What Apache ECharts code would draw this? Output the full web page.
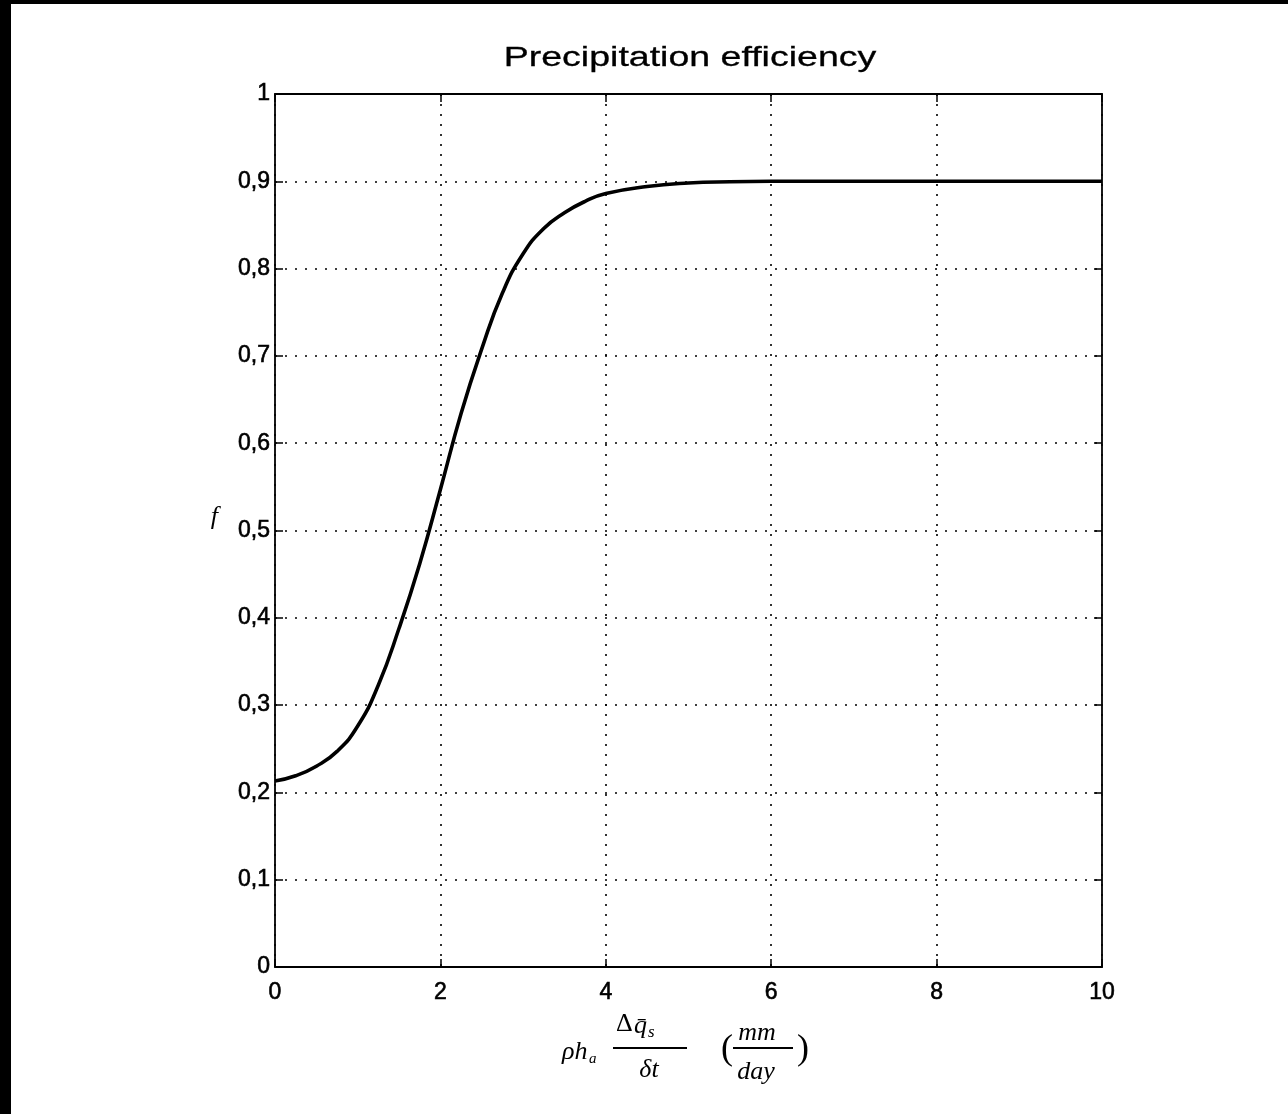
<!DOCTYPE html>
<html>
<head>
<meta charset="utf-8">
<script src="https://cdn.jsdelivr.net/npm/echarts@6/dist/echarts.min.js"></script>
<style>
  html, body { margin: 0; padding: 0; background: #000; width: 1288px; height: 1114px; overflow: hidden; }
  #chart { position: absolute; left: 11px; top: 4px; width: 1277px; height: 1110px; background: #fff; }
</style>
</head>
<body>
<div id="chart"></div>
<script>
// ---- data ----
const xValues = [0, 0.25, 0.5, 0.75, 1.0, 1.25, 1.5, 1.75, 2.0, 2.25, 2.5, 2.75, 3.0, 3.25, 3.5, 3.75, 4.0, 4.5, 5.0, 5.5, 6.0, 7.0, 8.0, 9.0, 10.0];
const fValues = [0.213, 0.219, 0.230, 0.247, 0.276, 0.323, 0.388, 0.462, 0.547, 0.634, 0.708, 0.772, 0.817, 0.846, 0.864, 0.877, 0.886, 0.894, 0.898, 0.8995, 0.9, 0.9, 0.9, 0.9, 0.9];
const yTickLabels = ['0', '0,1', '0,2', '0,3', '0,4', '0,5', '0,6', '0,7', '0,8', '0,9', '1'];
const xTickLabels = ['0', '2', '4', '6', '8', '10'];
const titleText = 'Precipitation efficiency';

const chart = echarts.init(document.getElementById('chart'), null, { renderer: 'canvas' });

const labelFont = { fontFamily: 'Liberation Sans', fontSize: 23, color: '#000', textBorderColor: '#000', textBorderWidth: 0.6 };
const gridDots = { show: true, lineStyle: { color: '#000', width: 1.6, type: [2, 8] } };
const axLine = { show: true, onZero: false, lineStyle: { color: '#000', width: 1.8 } };
const tick = { show: true, inside: true, length: 8, lineStyle: { color: '#000', width: 1.5 } };

const serif = 'Liberation Serif';

chart.setOption({
  animation: false,
  backgroundColor: '#fff',
  grid: { left: 264, right: 186, top: 90, bottom: 147, containLabel: false },
  xAxis: [
    {
      type: 'value', min: 0, max: 10, interval: 2, position: 'bottom',
      axisLine: axLine, axisTick: tick, splitLine: gridDots,
      axisLabel: Object.assign({ margin: 14, formatter: v => xTickLabels[Math.round(v / 2)] }, labelFont)
    },
    {
      type: 'value', min: 0, max: 10, interval: 2, position: 'top',
      axisLine: axLine, axisTick: tick, splitLine: { show: false }, axisLabel: { show: false }
    }
  ],
  yAxis: [
    {
      type: 'value', min: 0, max: 1, interval: 0.1, position: 'left',
      axisLine: axLine, axisTick: tick, splitLine: gridDots,
      axisLabel: Object.assign({ margin: 5, formatter: v => yTickLabels[Math.round(v * 10)] }, labelFont),
      name: 'f', nameLocation: 'middle', nameRotate: 0, nameGap: 57,
      nameTextStyle: { fontFamily: serif, fontStyle: 'italic', fontSize: 26, color: '#000', verticalAlign: 'bottom' }
    },
    {
      type: 'value', min: 0, max: 1, interval: 0.1, position: 'right',
      axisLine: axLine, axisTick: tick, splitLine: { show: false }, axisLabel: { show: false }
    }
  ],
  series: [
    {
      type: 'line',
      xAxisIndex: 0, yAxisIndex: 0,
      data: xValues.map((x, i) => [x, fValues[i]]),
      smooth: 0.5,
      showSymbol: false,
      lineStyle: { color: '#000', width: 3.6 },
      z: 5
    }
  ],
  graphic: [
    { type: 'text', x: 679, y: 54, scaleX: 1.34, scaleY: 1,
      style: { text: titleText, align: 'center', verticalAlign: 'middle', font: '28px "Liberation Sans"', fill: '#000', stroke: '#000', lineWidth: 0.3 } },
    // x-axis label: rho h_a (Delta q-bar_s / delta t)  (mm / day)
    { type: 'text', x: 551, y: 1048, style: { text: 'ρh', align: 'left', verticalAlign: 'middle', font: 'italic 26px "Liberation Serif"', fill: '#000' } },
    { type: 'text', x: 578, y: 1055, style: { text: 'a', align: 'left', verticalAlign: 'middle', font: 'italic 15px "Liberation Serif"', fill: '#000' } },
    { type: 'line', shape: { x1: 602, y1: 1044, x2: 676, y2: 1044 }, style: { stroke: '#000', lineWidth: 2 } },
    { type: 'text', x: 605, y: 1020, style: { text: 'Δ', align: 'left', verticalAlign: 'middle', font: '26px "Liberation Serif"', fill: '#000' } },
    { type: 'text', x: 623, y: 1022, style: { text: 'q̄', align: 'left', verticalAlign: 'middle', font: 'italic 26px "Liberation Serif"', fill: '#000' } },
    { type: 'text', x: 637, y: 1029, style: { text: 's', align: 'left', verticalAlign: 'middle', font: 'italic 17px "Liberation Serif"', fill: '#000' } },
    { type: 'text', x: 638, y: 1066, style: { text: 'δt', align: 'center', verticalAlign: 'middle', font: 'italic 26px "Liberation Serif"', fill: '#000' } },
    { type: 'text', x: 716, y: 1046, style: { text: '(', align: 'center', verticalAlign: 'middle', font: '36px "Liberation Serif"', fill: '#000' } },
    { type: 'line', shape: { x1: 722, y1: 1044, x2: 782, y2: 1044 }, style: { stroke: '#000', lineWidth: 2 } },
    { type: 'text', x: 746, y: 1029, style: { text: 'mm', align: 'center', verticalAlign: 'middle', font: 'italic 26px "Liberation Serif"', fill: '#000' } },
    { type: 'text', x: 745, y: 1068, style: { text: 'day', align: 'center', verticalAlign: 'middle', font: 'italic 26px "Liberation Serif"', fill: '#000' } },
    { type: 'text', x: 792, y: 1046, style: { text: ')', align: 'center', verticalAlign: 'middle', font: '36px "Liberation Serif"', fill: '#000' } }
  ]
});
</script>
</body>
</html>
